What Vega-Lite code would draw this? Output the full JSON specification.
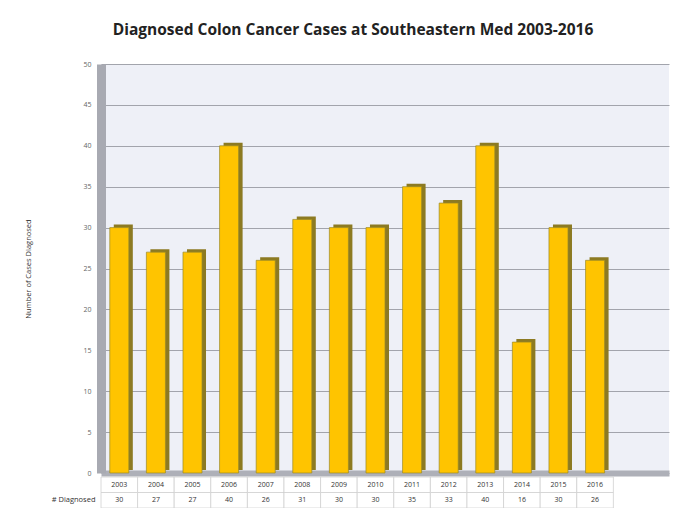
{
  "$schema": "https://vega.github.io/schema/vega-lite/v6.json",
  "background": "white",
  "padding": {"left": 24, "top": 22, "right": 10, "bottom": 2},
  "title": {"text": "Diagnosed Colon Cancer Cases at Southeastern Med 2003-2016", "font": "Open Sans", "fontSize": 15.5, "fontWeight": "bold", "color": "#222222", "offset": 22, "anchor": "middle", "dx": 6},
  "data": {"values": [
    {"Year": "2003", "Cases": 30},
    {"Year": "2004", "Cases": 27},
    {"Year": "2005", "Cases": 27},
    {"Year": "2006", "Cases": 40},
    {"Year": "2007", "Cases": 26},
    {"Year": "2008", "Cases": 31},
    {"Year": "2009", "Cases": 30},
    {"Year": "2010", "Cases": 30},
    {"Year": "2011", "Cases": 35},
    {"Year": "2012", "Cases": 33},
    {"Year": "2013", "Cases": 40},
    {"Year": "2014", "Cases": 16},
    {"Year": "2015", "Cases": 30},
    {"Year": "2016", "Cases": 26}
  ]},
  "spacing": 0,
  "config": {"font": "Open Sans", "view": {"stroke": null}},
  "vconcat": [
    {
      "width": 568,
      "height": 409,
      "view": {"fill": "#EEF0F7", "stroke": null},
      "encoding": {
        "x": {"field": "Year", "type": "nominal", "sort": null,
              "scale": {"paddingInner": 0.48, "paddingOuter": 1.0, "align": 0.12},
              "axis": {"labels": false, "ticks": false, "title": null, "domainColor": "#AEB0B8", "domainWidth": 6}},
        "y": {"field": "Cases", "type": "quantitative",
              "scale": {"domain": [0, 50]},
              "axis": {"values": [0,5,10,15,20,25,30,35,40,45,50], "title": "Number of Cases Diagnosed", "titleFontSize": 7.5, "titleFontWeight": "normal", "titleColor": "#333333", "titlePadding": 50, "labelFontSize": 7, "labelColor": "#666666", "labelPadding": 10, "ticks": false, "gridColor": "#A2A4AC", "gridWidth": 1, "domainColor": "#A8AAB2", "domainWidth": 9}}
      },
      "layer": [
        {"mark": {"type": "bar", "color": "#8C7A22", "xOffset": 4, "yOffset": -3}},
        {"mark": {"type": "bar", "color": "#FFC400", "stroke": "#9A8A2A", "strokeWidth": 0.7}}
      ]
    },
    {
      "width": 568,
      "height": 31,
      "transform": [{"fold": ["Year", "Cases"], "as": ["key", "val"]}],
      "encoding": {
        "x": {"field": "Year", "type": "nominal", "sort": null,
              "scale": {"paddingInner": 0, "paddingOuter": 0.76, "align": 0}, "axis": null},
        "y": {"field": "key", "type": "nominal", "sort": ["Year", "Cases"],
              "axis": {"title": null, "ticks": false, "domain": false, "labelFontSize": 7.5, "labelColor": "#333333", "labelPadding": 6,
                       "labelExpr": "datum.value == 'Cases' ? '# Diagnosed' : ''"}}
      },
      "layer": [
        {"mark": {"type": "rect", "fill": "white", "stroke": "#D0D0D0", "strokeWidth": 0.8}},
        {"mark": {"type": "text", "fontSize": 7, "color": "#333333"}, "encoding": {"text": {"field": "val", "type": "nominal"}}}
      ]
    }
  ]
}
